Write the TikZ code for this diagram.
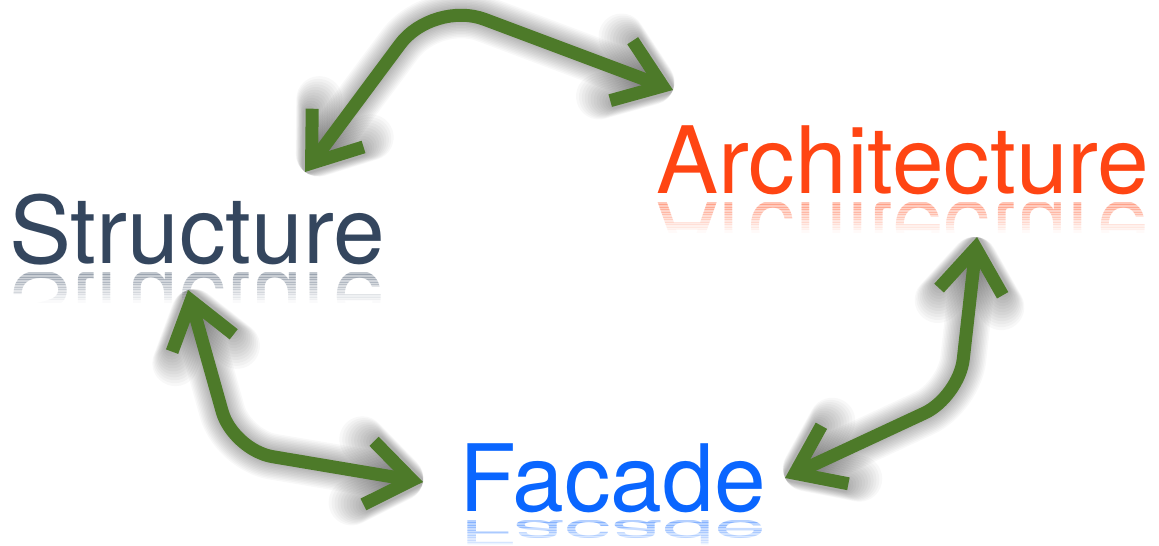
\documentclass[tikz,border=0pt]{standalone}
\usepackage{graphicx}
\usepackage{fontspec}
\setmainfont{TeX Gyre Heros}
\usetikzlibrary{arrows.meta}
\definecolor{sgray}{HTML}{34465E}
\definecolor{aorange}{HTML}{FF4513}
\definecolor{fblue}{HTML}{0A66FF}
\definecolor{agreen}{HTML}{4D7A29}
\tikzset{
  word/.style={anchor=base west, inner sep=0pt, font=\fontsize{93}{93}\selectfont},
  bitip/.style={arrows={Straight Barb[length=44pt,width=64pt,sharp]-Straight Barb[length=44pt,width=64pt,sharp]}},
  shadowtip/.style={arrows={Straight Barb[length=44pt,width=64pt,round]-Straight Barb[length=44pt,width=64pt,round]}},
  link/.style={line width=13pt, draw=agreen, bitip},
  linkshadow/.style={draw=black, shadowtip, line join=round, line cap=round, shift={(5,9)}},
}
% #1 name, #2 x, #3 baseline, #4 colour, #5 vertical squash, #6 text
\newcommand\mirrorword[6]{%
  \foreach \i [evaluate=\i as \op using 0.30*(1-\i/12)] in {0,...,11} {
    \begin{scope}
      \clip (0,#3+9+2.5*\i) rectangle (1159,#3+9+2.5*\i+2.5);
      \node[word, text=#4, opacity=\op] (#1-\i) at (#2,#3+9) {\scalebox{1}[-#5]{#6}};
    \end{scope}
  }%
}
\begin{document}
\begin{tikzpicture}[x=1pt,y=-1pt]
\useasboundingbox[fill=white] (0,0) rectangle (1159,546);

% words
\node[word, text=sgray]   (structure)    at (9,263)   {Structure};
\node[word, text=aorange] (architecture) at (656,193) {Architecture};
\node[word, text=fblue]   (facade)       at (459,511) {Facade};

\mirrorword{rs}{9}{263}{sgray}{1}{Structure}
\mirrorword{ra}{656}{193}{aorange}{1}{Architecture}
\mirrorword{rf}{459}{511}{fblue}{0.36}{Facade}

% connector end points and bends
\coordinate (a1s) at (305,172);
\coordinate (a1c) at (433,0);
\coordinate (a1a) at (673,90);
\coordinate (a2s) at (188,290);
\coordinate (a2c) at (233,450);
\coordinate (a2f) at (423,482);
\coordinate (a3a) at (977,237);
\coordinate (a3c) at (959,397);
\coordinate (a3f) at (785,478);

% shadows
\foreach \p/\q/\r/\rad in {a1s/a1c/a1a/55, a2s/a2c/a2f/40, a3f/a3c/a3a/38} {
  \foreach \w in {13,16,...,46} {
    \draw[linkshadow, line width=\w pt, draw opacity=0.028, rounded corners=\rad pt] (\p) -- (\q) -- (\r);
  }
}
% arrows
\foreach \p/\q/\r/\rad in {a1s/a1c/a1a/55, a2s/a2c/a2f/40, a3f/a3c/a3a/38} {
  \draw[link, rounded corners=\rad pt] (\p) -- (\q) -- (\r);
}
\end{tikzpicture}
\end{document}
